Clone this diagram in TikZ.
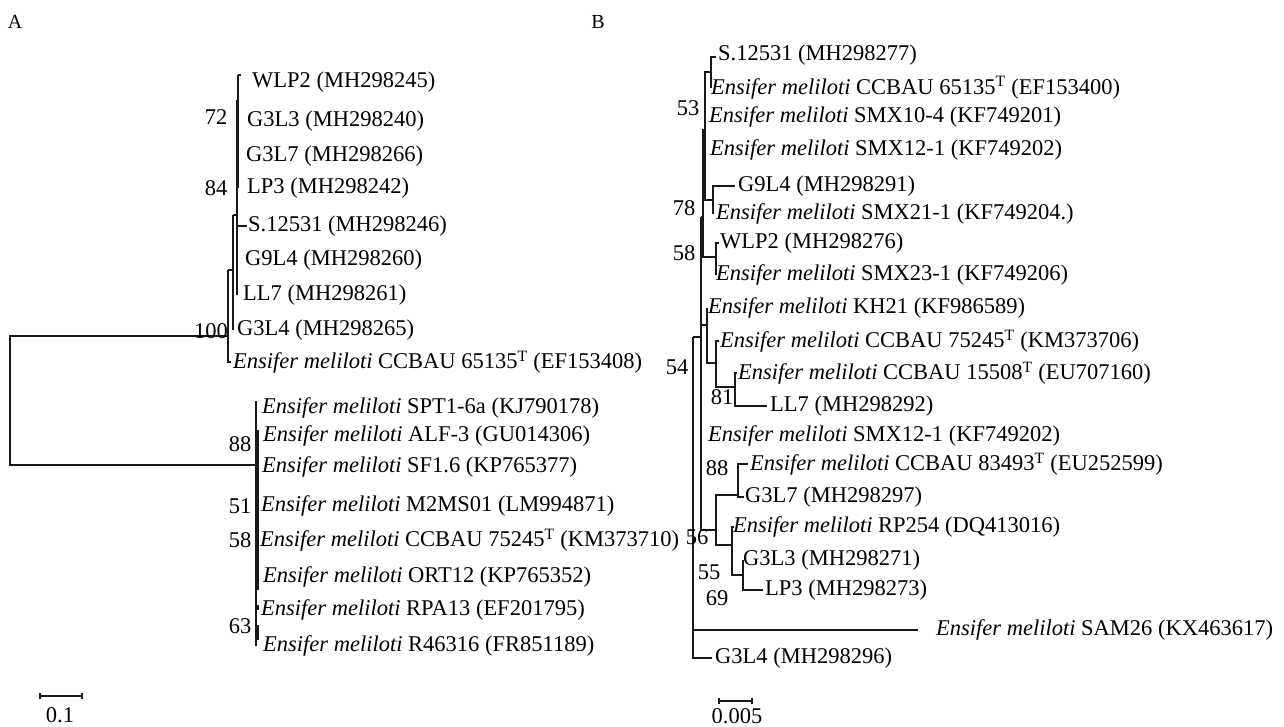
\documentclass[tikz,border=0pt]{standalone}
\usepackage{fontspec}
\setmainfont{Liberation Serif}
\newcommand\Em{\textit{Ensifer meliloti}}
\newcommand\Tsup{\textsuperscript{T}}
\begin{document}
\begin{tikzpicture}[x=1pt,y=-1pt,
  br/.style={line width=1.1pt,draw=black!90},
  lab/.style={anchor=west,inner sep=0pt,font=\fontsize{22.5}{24}\selectfont},
  bs/.style={inner sep=0pt,font=\fontsize{22.5}{24}\selectfont},
  pan/.style={inner sep=0pt,font=\fontsize{20}{22}\selectfont}]
\useasboundingbox (0,0) rectangle (1284,727);
\node[pan] (pA) at (15,22) {A};
\node[pan] (pB) at (598,22) {B};
% ===== Panel A =====
% leaves
\node[lab] (a1) at (252,82) {WLP2 (MH298245)};
\node[lab] (a2) at (247,121) {G3L3 (MH298240)};
\node[lab] (a3) at (246,156) {G3L7 (MH298266)};
\node[lab] (a4) at (247,188) {LP3 (MH298242)};
\node[lab] (a5) at (248,226) {S.12531 (MH298246)};
\node[lab] (a6) at (245,260) {G9L4 (MH298260)};
\node[lab] (a7) at (243,295) {LL7 (MH298261)};
\node[lab] (a8) at (237,330) {G3L4 (MH298265)};
\node[lab] (a9) at (233,362) {\Em{} CCBAU 65135\Tsup{} (EF153408)};
\node[lab] (b1) at (262,408) {\Em{} SPT1-6a (KJ790178)};
\node[lab] (b2) at (263,436) {\Em{} ALF-3 (GU014306)};
\node[lab] (b3) at (262,467) {\Em{} SF1.6 (KP765377)};
\node[lab] (b4) at (261,506) {\Em{} M2MS01 (LM994871)};
\node[lab] (b5) at (260,540) {\Em{} CCBAU 75245\Tsup{} (KM373710)};
\node[lab] (b6) at (263,577) {\Em{} ORT12 (KP765352)};
\node[lab] (b7) at (261,610) {\Em{} RPA13 (EF201795)};
\node[lab] (b8) at (263,646) {\Em{} R46316 (FR851189)};
% internal nodes
\coordinate (rootA) at (10,400);
\coordinate (nA100) at (228,336);
\coordinate (nA2) at (233,270);
\coordinate (nA3) at (237,215);
\coordinate (nA72) at (238,100);
\coordinate (nAB) at (256,465);
\coordinate (nAB1) at (258,430);
\coordinate (nAB2) at (258,625);
% root
\draw[br] (nA100) -| (rootA) |- (nAB);
% top clade
\draw[br] (nA100) -- ++(0,-66) (nA100) -- ++(0,26) -- ++(3,0);
\draw[br] (228,270) -- (nA2);
\draw[br] (nA2) -- ++(0,-55) (nA2) -- ++(0,60);
\draw[br] (233,215) -- (nA3);
\draw[br] (nA3) -- ++(0,-115) (nA3) -- ++(0,80);
\draw[br] (nA3) ++(0,11) -- ++(10,0);
\draw[br] (237,100) -- (nA72);
\draw[br] (238,75) -- ++(3,0) (238,75) -- (238,188);
% bottom clade
\draw[br] (256,401) -- (256,646);
\draw[br] (nAB1) -- (258,590) (nAB2) -- (258,640) (nAB2) ++(0,-20) -- ++(0,5);
% bootstraps
\node[bs] (sA1) at (216,117) {72};
\node[bs] (sA2) at (216,188) {84};
\node[bs] (sA3) at (211,331) {100};
\node[bs] (sA4) at (240,444) {88};
\node[bs] (sA5) at (240,506) {51};
\node[bs] (sA6) at (240,540) {58};
\node[bs] (sA7) at (240,626) {63};
% scale bar A
\coordinate (scA1) at (40,696);
\coordinate (scA2) at (82,696);
\draw[br] (scA1) -- (scA2) (scA1) ++(0,-3) -- ++(0,6) (scA2) ++(0,-3) -- ++(0,6);
\node[bs] (scAl) at (60,715) {0.1};
% ===== Panel B =====
\node[lab] (c1) at (718,55) {S.12531 (MH298277)};
\node[lab] (c2) at (711,88) {\Em{} CCBAU 65135\Tsup{} (EF153400)};
\node[lab] (c3) at (709,117) {\Em{} SMX10-4 (KF749201)};
\node[lab] (c4) at (710,150) {\Em{} SMX12-1 (KF749202)};
\node[lab] (c5) at (738,186) {G9L4 (MH298291)};
\node[lab] (c6) at (716,214) {\Em{} SMX21-1 (KF749204.)};
\node[lab] (c7) at (720,243) {WLP2 (MH298276)};
\node[lab] (c8) at (716,275) {\Em{} SMX23-1 (KF749206)};
\node[lab] (c9) at (708,308) {\Em{} KH21 (KF986589)};
\node[lab] (c10) at (720,341) {\Em{} CCBAU 75245\Tsup{} (KM373706)};
\node[lab] (c11) at (738,373) {\Em{} CCBAU 15508\Tsup{} (EU707160)};
\node[lab] (c12) at (770,406) {LL7 (MH298292)};
\node[lab] (c13) at (708,436) {\Em{} SMX12-1 (KF749202)};
\node[lab] (c14) at (750,464) {\Em{} CCBAU 83493\Tsup{} (EU252599)};
\node[lab] (c15) at (745,497) {G3L7 (MH298297)};
\node[lab] (c16) at (733,527) {\Em{} RP254 (DQ413016)};
\node[lab] (c17) at (743,560) {G3L3 (MH298271)};
\node[lab] (c18) at (765,590) {LP3 (MH298273)};
\node[lab] (c19) at (936,630) {\Em{} SAM26 (KX463617)};
\node[lab] (c20) at (715,658) {G3L4 (MH298296)};
% internal nodes
\coordinate (nR) at (693,337);
\coordinate (nM) at (701,337);
\coordinate (nT) at (703,217);
\coordinate (n53) at (705,130);
\coordinate (nS) at (711,72);
\coordinate (nG) at (713,200);
\coordinate (nW) at (716,257);
\coordinate (nK) at (707,325);
\coordinate (nC) at (716,363);
\coordinate (n81) at (735,387);
\coordinate (n56) at (716,530);
\coordinate (n88) at (738,495);
\coordinate (n55) at (732,545);
\coordinate (n69) at (743,575);
% root
\draw[br] (nR) -- (nM);
\draw[br] (nR) -- (693,658) -- ++(19,0);
\draw[br] (693,630) -- (918,630);
% main
\draw[br] (701,217) -- (701,530) -- (n56);
\draw[br] (701,217) -- (nT);
\draw[br] (nT) -- (703,130) -- (n53) (nT) -- (703,257) -- (nW);
\draw[br] (n53) -- (705,72) -- (nS) (n53) -- (705,200) -- (nG);
\draw[br] (nS) -- (711,57) -- ++(5,0) (nS) -- (711,88);
\draw[br] (nG) -- (713,186) -- ++(22,0) (nG) -- (713,214);
\draw[br] (nW) -- (716,243) -- ++(3,0) (nW) -- (716,275);
\draw[br] (701,325) -- (nK);
\draw[br] (nK) -- (707,308) (nK) -- (707,363) -- (nC);
\draw[br] (nC) -- (716,341) -- ++(3,0) (nC) -- (716,387) -- (n81);
\draw[br] (n81) -- (735,373) -- ++(2,0) (n81) -- (735,406) -- ++(32,0);
\draw[br] (n56) -- (716,495) -- (n88) (n56) -- (716,545) -- (n55);
\draw[br] (n88) -- (738,464) -- ++(10,0) (n88) -- (738,497) -- ++(6,0);
\draw[br] (n55) -- (732,527) -- ++(2,0) (n55) -- (732,575) -- (n69);
\draw[br] (n69) -- (743,560) (n69) -- (743,590) -- ++(20,0);
% bootstraps
\node[bs] (sB1) at (688,108) {53};
\node[bs] (sB2) at (684,208) {78};
\node[bs] (sB3) at (684,253) {58};
\node[bs] (sB4) at (677,367) {54};
\node[bs] (sB5) at (722,397) {81};
\node[bs] (sB6) at (717,468) {88};
\node[bs] (sB7) at (697,537) {56};
\node[bs] (sB8) at (709,572) {55};
\node[bs] (sB9) at (717,598) {69};
% scale bar B
\coordinate (scB1) at (719,701);
\coordinate (scB2) at (752,701);
\draw[br] (scB1) -- (scB2) (scB1) ++(0,-3) -- ++(0,6) (scB2) ++(0,-3) -- ++(0,6);
\node[bs] (scBl) at (737,716) {0.005};
\end{tikzpicture}
\end{document}
